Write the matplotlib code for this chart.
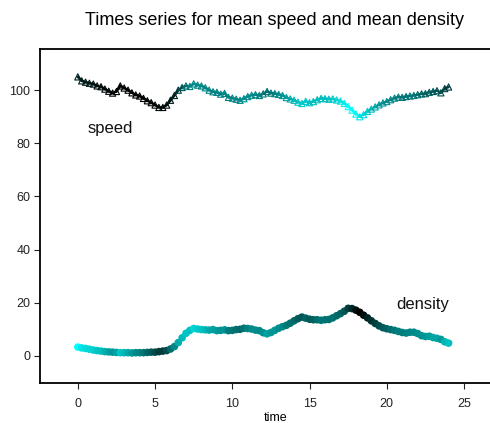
import numpy as np
import matplotlib
matplotlib.use("Agg")
import matplotlib.pyplot as plt
from matplotlib.colors import LinearSegmentedColormap, Normalize

plt.rcParams["font.family"] = ["Liberation Sans", "DejaVu Sans"]

# Sampled every 0.25 time units, t = 0 .. 24
time = np.arange(97) * 0.25

speed = [
    105.0, 103.5, 103.0, 102.6, 102.3, 101.6, 101.3, 100.4, 99.6, 98.9,
    99.5, 101.6, 100.8, 100.0, 99.0, 98.2, 97.8, 96.9, 96.0, 95.3,
    94.4, 93.5, 93.5, 94.4, 96.2, 98.0, 100.0, 101.0, 101.6, 101.4,
    102.4, 101.9, 101.6, 100.9, 100.0, 99.4, 99.2, 98.5, 98.8, 97.3,
    97.0, 96.6, 96.2, 96.8, 97.6, 98.1, 98.3, 98.0, 98.6, 99.5,
    98.9, 98.7, 98.4, 98.0, 97.2, 96.7, 96.2, 95.5, 95.0, 95.8,
    95.3, 95.7, 96.4, 96.9, 96.8, 96.6, 96.7, 96.3, 95.9, 95.0,
    93.8, 92.5, 91.0, 90.0, 90.8, 92.0, 92.9, 93.7, 94.5, 95.2,
    95.7, 96.4, 97.0, 97.4, 97.3, 97.6, 97.8, 98.0, 98.3, 98.6,
    98.7, 99.2, 99.5, 99.8, 99.0, 100.6, 101.2,
]

density = [
    3.3, 3.0, 2.8, 2.5, 2.2, 2.0, 1.8, 1.6, 1.5, 1.4,
    1.3, 1.2, 1.2, 1.2, 1.1, 1.2, 1.2, 1.2, 1.3, 1.4,
    1.4, 1.6, 1.8, 2.0, 2.6, 3.5, 5.0, 6.8, 8.5, 9.6,
    10.3, 10.1, 9.9, 9.8, 9.7, 9.9, 9.5, 9.6, 9.8, 9.5,
    9.6, 9.9, 10.0, 10.4, 10.3, 10.1, 9.7, 9.5, 8.7, 8.3,
    8.8, 9.6, 10.4, 11.0, 11.5, 12.3, 13.2, 14.0, 14.6, 14.2,
    13.8, 13.6, 13.6, 13.4, 13.6, 13.7, 14.3, 15.1, 15.9, 16.8,
    17.9, 17.8, 17.2, 16.4, 15.3, 14.3, 13.2, 12.2, 11.3, 10.6,
    10.2, 9.9, 9.6, 9.2, 8.8, 8.6, 8.9, 8.9, 8.4, 7.6,
    7.3, 7.4, 6.9, 6.6, 6.2, 5.3, 4.8,
]

speed = np.array(speed)
density = np.array(density)

cmap = LinearSegmentedColormap.from_list("blk_cyan", ["#000000", "#00ffff"])
# speed is coloured by density, density by speed
speed_cols = cmap(Normalize(density.min(), density.max())(density))
dens_cols = cmap(Normalize(speed.min(), speed.max())(speed))

fig = plt.figure(figsize=(4.9, 4.23), dpi=100)
ax = fig.add_axes([0.0816, 0.0946, 0.96, 0.789])

for i in range(len(time) - 1):
    ax.plot(time[i:i + 2], speed[i:i + 2], color=speed_cols[i], lw=1.8,
            solid_capstyle="round", zorder=2)
ax.scatter(time, speed, marker="^", s=20, facecolors="none",
           edgecolors=speed_cols, linewidths=0.8, zorder=3)
ax.scatter(time, density, marker="o", s=30, c=dens_cols, edgecolors="none",
           zorder=3)

ax.text(0.6, 85.5, "speed", fontsize=12, va="center", ha="left", color="#111")
ax.text(20.6, 19.5, "density", fontsize=12, va="center", ha="left", color="#111")

ax.set_xlim(-2.45, 28.0)
ax.set_ylim(-10.2, 115.4)
ax.set_xticks([0, 5, 10, 15, 20, 25])
ax.set_yticks([0, 20, 40, 60, 80, 100])
ax.tick_params(direction="out", length=4, width=0.8, labelsize=9,
               colors="#222")
ax.tick_params(axis="x", pad=7)
ax.tick_params(axis="y", pad=3)
for s in ax.spines.values():
    s.set_linewidth(1.3)
ax.set_xlabel("time", fontsize=9, labelpad=1)
fig.text(0.561, 0.952, "Times series for mean speed and mean density",
         fontsize=13, ha="center", va="center")

fig.savefig("out.png", dpi=100)
